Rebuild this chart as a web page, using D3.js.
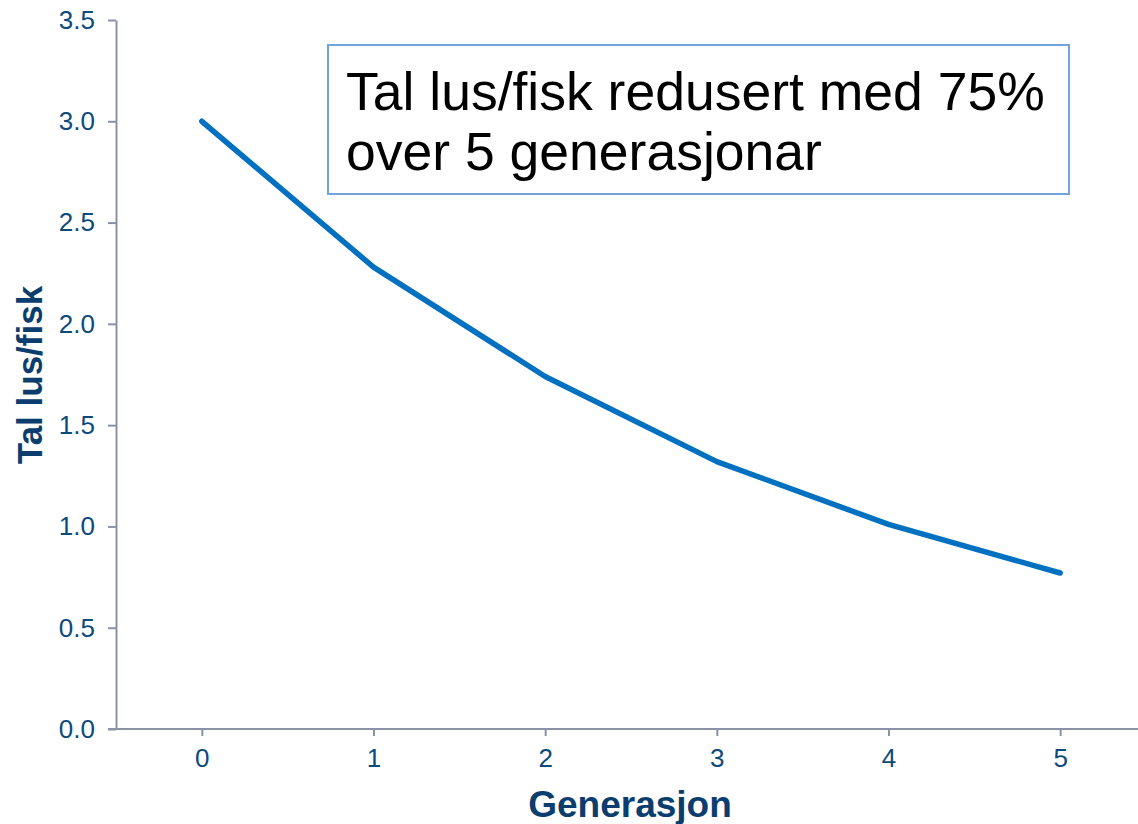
<!DOCTYPE html>
<html><head><meta charset="utf-8">
<script src="https://cdn.jsdelivr.net/npm/d3@7"></script>
<style>html,body{margin:0;padding:0;background:#fff;overflow:hidden}</style>
</head><body>
<svg id="c" width="1138" height="824"></svg>
<script>
const generations = [0, 1, 2, 3, 4, 5];
const liceValues = [3.0, 2.28, 1.74, 1.32, 1.01, 0.77];
const yTicks = [0, 0.5, 1.0, 1.5, 2.0, 2.5, 3.0, 3.5];
const xTitle = "Generasjon";
const yTitle = "Tal lus/fisk";
const noteLines = ["Tal lus/fisk redusert med 75%", "over 5 generasjonar"];

const svg = d3.select("#c");
const axisColor = "#8a93a6";
const labelColor = "#0d4a7c";
const titleColor = "#0b3d6e";
const font = "Liberation Sans, Arial, sans-serif";

const x = d3.scaleLinear().domain([-0.5, 5.5]).range([116, 1146]);
const y = d3.scaleLinear().domain([0, 3.5]).range([729, 20]);

// Y axis
const yAxis = svg.append("g").attr("transform", "translate(116,0)")
  .call(d3.axisLeft(y).tickValues(yTicks).tickFormat(d3.format(".1f")).tickSize(8).tickSizeOuter(0).tickPadding(13));
yAxis.select(".domain").attr("stroke", axisColor).attr("stroke-width", 2);
yAxis.selectAll(".tick line").attr("stroke", axisColor).attr("stroke-width", 2);
yAxis.selectAll(".tick text").attr("fill", labelColor).attr("font-family", font).attr("font-size", 26);

// X axis
const xAxis = svg.append("g").attr("transform", "translate(0,729)")
  .call(d3.axisBottom(x).tickValues(generations).tickFormat(d3.format("d")).tickSize(7).tickSizeOuter(0).tickPadding(13));
xAxis.select(".domain").attr("stroke", axisColor).attr("stroke-width", 2).attr("d", `M108,0H1146`);
xAxis.selectAll(".tick line").attr("stroke", axisColor).attr("stroke-width", 2);
xAxis.selectAll(".tick text").attr("fill", labelColor).attr("font-family", font).attr("font-size", 26);

// Line
const line = d3.line().x((d, i) => x(generations[i])).y(d => y(d));
svg.append("path").datum(liceValues).attr("d", line)
  .attr("fill", "none").attr("stroke", "#0070c0").attr("stroke-width", 5.5)
  .attr("stroke-linecap", "round").attr("stroke-linejoin", "round");

// Axis titles
svg.append("text").attr("x", 630).attr("y", 817).attr("text-anchor", "middle")
  .attr("font-family", font).attr("font-weight", "bold").attr("font-size", 37)
  .attr("fill", titleColor).text(xTitle);
svg.append("text").attr("transform", "translate(42,375) rotate(-90)").attr("text-anchor", "middle")
  .attr("font-family", font).attr("font-weight", "bold").attr("font-size", 35)
  .attr("fill", titleColor).text(yTitle);

// Note box
svg.append("rect").attr("x", 328).attr("y", 45).attr("width", 741).attr("height", 149)
  .attr("fill", "#fff").attr("stroke", "#6fa5dc").attr("stroke-width", 2);
const note = svg.append("text").attr("font-family", font).attr("font-size", 53.5).attr("fill", "#000");
noteLines.forEach((t, i) => {
  note.append("tspan").attr("x", 346).attr("y", 110 + i * 60).text(t);
});
</script>
</body></html>
